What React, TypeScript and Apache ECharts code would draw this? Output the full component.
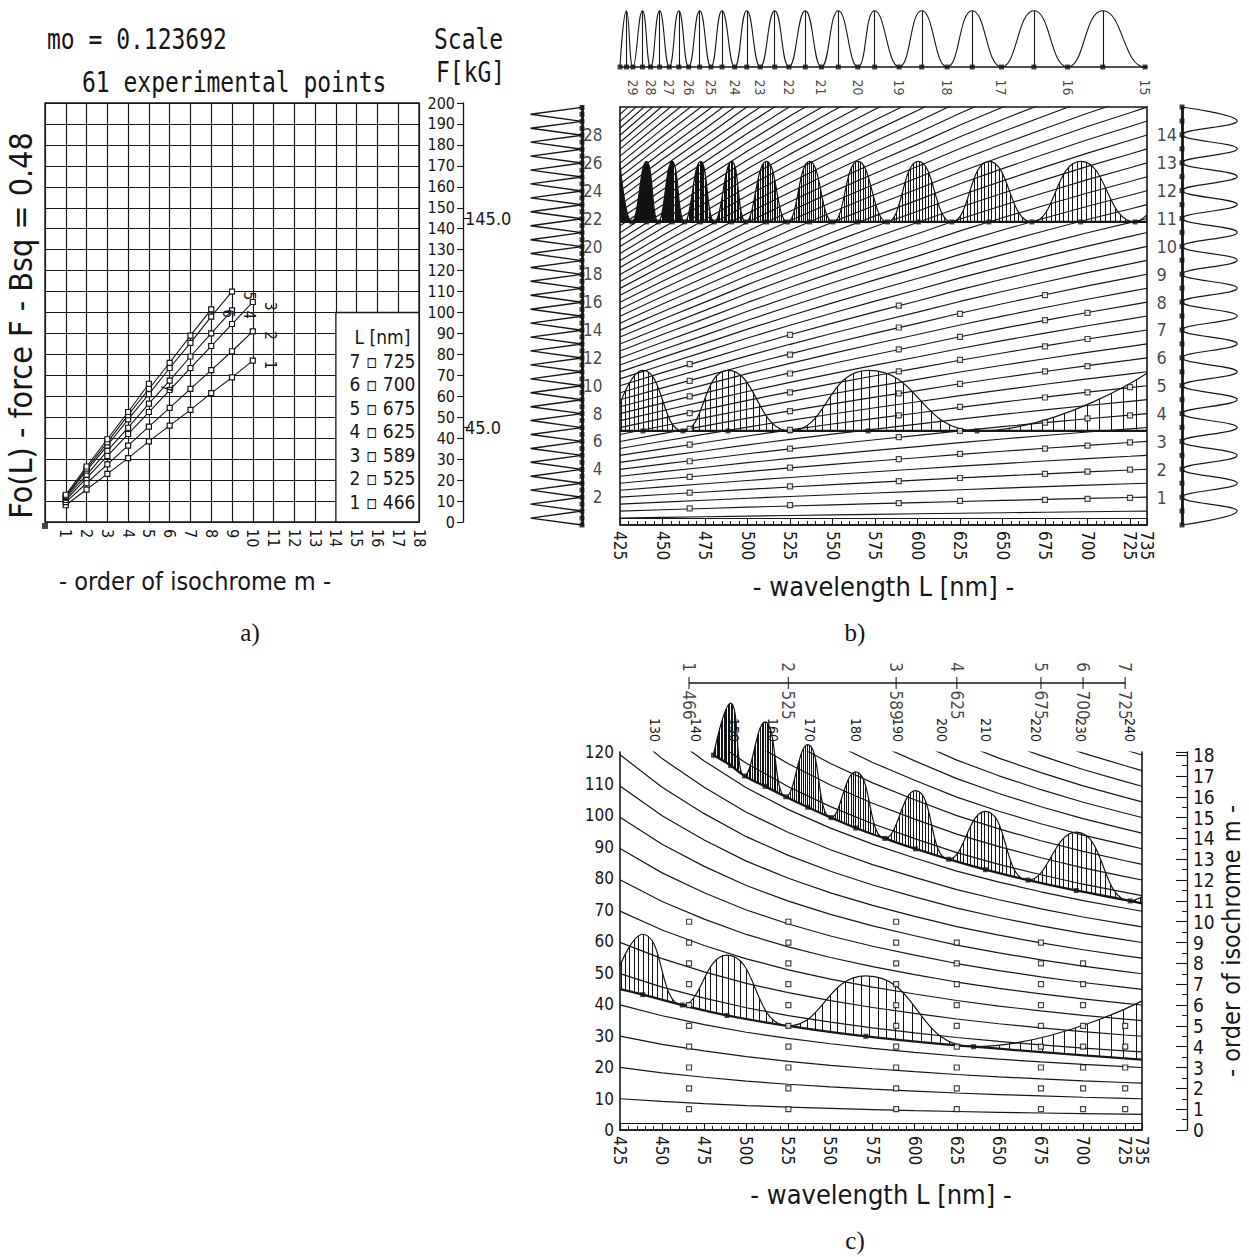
import React, { useEffect, useRef } from "react";
import * as echarts from "echarts";

const NARROW = "'Liberation Sans Narrow','DejaVu Sans Condensed','Liberation Sans',sans-serif";
const MONO = "'DejaVu Sans Mono','Liberation Mono',monospace";
const SERIF = "'Liberation Serif','DejaVu Serif',serif";
const INK = "#161616";

// ---------------- panel a ----------------
const ORDER_LABELS_A = [1, 2, 3, 4, 5, 6, 7, 8, 9, 10, 11, 12, 13, 14, 15, 16, 17, 18];
const SCALE_MARKS = [45, 145];
const WAVELENGTHS = [466, 525, 589, 625, 675, 700, 725];
const CURVE_IDS = ["1", "2", "3", "4", "5", "6", "7"];
const F_466 = [8, 15.5, 23, 30.5, 38.5, 46, 53.5, 61.5, 69, 77];
const F_525 = [9.5, 18.5, 27.5, 36.5, 45.5, 54.5, 63.5, 72.5, 81.5, 91];
const F_589 = [10.5, 21, 31.5, 42, 52.5, 63, 73.5, 84, 94.5, 105];
const F_625 = [11.5, 22.5, 34, 45, 56.5, 67.5, 79, 90, 101];
const F_675 = [12, 24.5, 36.5, 49, 61, 73.5, 85.5, 98, 110];
const F_700 = [12.5, 25.5, 38, 51, 63.5, 76, 89, 101.5];
const F_725 = [13, 26.5, 39.5, 52.5, 66];
const EXP_F = [F_466, F_525, F_589, F_625, F_675, F_700, F_725];

// ---------------- panels b and c ----------------
const WL_LABELS = [425, 450, 475, 500, 525, 550, 575, 600, 625, 650, 675, 700, 725, 735];
const K_LAMBDA = [425, 450, 475, 500, 525, 550, 575, 600, 625, 650, 675, 700, 725, 735];
// force [kG] of one isochrome order, read at each wavelength
const K_UNIT = [6.66, 7.29, 7.9, 8.52, 9.1, 9.66, 10.2, 10.72, 11.26, 11.76, 12.24, 12.71, 13.15, 13.33];
// dark and bright isochromes (whole and half orders)
const ORDERS_B = [
  0.5, 1, 1.5, 2, 2.5, 3, 3.5, 4, 4.5, 5, 5.5, 6, 6.5, 7, 7.5, 8, 8.5, 9, 9.5, 10,
  10.5, 11, 11.5, 12, 12.5, 13, 13.5, 14, 14.5, 15, 15.5, 16, 16.5, 17, 17.5, 18, 18.5, 19, 19.5, 20,
  20.5, 21, 21.5, 22, 22.5, 23, 23.5, 24, 24.5, 25, 25.5, 26, 26.5, 27, 27.5, 28, 28.5, 29, 29.5, 30,
];
const LEFT_ORDER_LABELS = [2, 4, 6, 8, 10, 12, 14, 16, 18, 20, 22, 24, 26, 28];
const RIGHT_ORDER_LABELS = [1, 2, 3, 4, 5, 6, 7, 8, 9, 10, 11, 12, 13, 14];

// spectrum at F = 200 kG (top strip)
const TOP_ZERO_LAMBDA = [425, 432.6, 443.0, 454.0, 465.4, 478.5, 492.5, 507.5, 524.4, 543.5, 564.9, 589.2, 617.4, 649.4, 688.3, 733.8];
const TOP_ZERO_ORDERS = ["", "29", "28", "27", "26", "25", "24", "23", "22", "21", "20", "19", "18", "17", "16", "15"];
const TOP_PEAK_LAMBDA = [428.8, 438.2, 448.3, 459.6, 471.9, 485.0, 499.6, 516.0, 534.0, 553.4, 574.8, 602.5, 632.2, 668.5, 709.0];

// spectrum at 425 nm (left strip) and at 735 nm (right strip), force values [kG]
const LEFT_ZERO_F = [0, 6.7, 13.3, 20.0, 26.6, 33.3, 40.0, 46.6, 53.3, 59.9, 66.6, 73.3, 79.9, 86.6, 93.2, 99.9, 106.6, 113.2, 119.9, 126.5, 133.2, 139.9, 146.5, 153.2, 159.8, 166.5, 173.2, 179.8, 186.5, 193.1, 199.8];
const LEFT_PEAK_F = [3.3, 10.0, 16.7, 23.3, 30.0, 36.6, 43.3, 50.0, 56.6, 63.3, 69.9, 76.6, 83.3, 89.9, 96.6, 103.2, 109.9, 116.6, 123.2, 129.9, 136.5, 143.2, 149.9, 156.5, 163.2, 169.8, 176.5, 183.2, 189.8, 196.5];
const RIGHT_ZERO_F = [0, 13.3, 26.7, 40.0, 53.3, 66.7, 80.0, 93.3, 106.7, 120.0, 133.3, 146.7, 160.0, 173.3, 186.7, 200];
const RIGHT_PEAK_F = [6.7, 20.0, 33.3, 46.7, 60.0, 73.3, 86.7, 100.0, 113.3, 126.7, 140.0, 153.3, 166.7, 180.0, 193.3];

// spectra at F = 145 kG and F = 45 kG (relative intensity)
const F_UPPER = 145;
const F_LOWER = 45;
const AMP_B = 29;
const SPEC145_LAMBDA = [425, 432, 440.6, 447.5, 455.7, 463, 472.4, 480.5, 490.7, 499, 511.2, 523.5, 536.5, 550.3, 565, 582.3, 600.5, 620.2, 642, 667.3, 696, 728, 735];
const SPEC145_I = [0.95, 0, 1, 0, 1, 0, 1, 0, 1, 0, 1, 0, 1, 0, 1, 0, 1, 0, 1, 0, 1, 0, 0.12];
const SPEC45_LAMBDA = [425, 438.5, 462, 488.5, 525, 571, 635, 735];
const SPEC45_I = [0.45, 1, 0, 1, 0, 1, 0, 0.95];

// panel c (order of isochrome m against wavelength)
const C_LEVELS = [10, 20, 30, 40, 50, 60, 70, 80, 90, 100, 110, 120, 130, 140, 150, 160, 170, 180, 190, 200, 210, 220, 230, 240];
const C_TOP_LAMBDA = [445.6, 470, 492.6, 516, 538, 565, 590, 616, 642.6, 672, 698.5, 728];
const C_TOP_LABELS = ["130", "140", "150", "160", "170", "180", "190", "200", "210", "220", "230", "240"];
const C145_LAMBDA = [480.5, 490.7, 499, 511.2, 523.5, 536.5, 550.3, 565, 582.3, 600.5, 620.2, 642, 667.3, 696, 728, 735];
const C145_BASE_M = [18, 17.5, 17, 16.5, 16, 15.5, 15, 14.5, 14, 13.5, 13, 12.5, 12, 11.5, 11, 10.88];
const C145_CURVE_M = [18, 20.5, 17, 19.6, 16, 18.5, 15, 17.2, 14, 16.3, 13, 15.3, 12, 14.3, 11, 11.2];
const C45_LAMBDA = [425, 438.5, 462, 488.5, 525, 571, 635, 735];
const C45_BASE_M = [6.76, 6.5, 6, 5.5, 5, 4.5, 4, 3.38];
const C45_CURVE_M = [7.9, 9.4, 6, 8.4, 5, 7.4, 4, 6.2];

function hatch(x0: number, x1: number, s0: number, s1: number, gamma: number) {
  const W = 1249;
  const H = 4;
  const c = document.createElement("canvas");
  c.width = W;
  c.height = H;
  const g = c.getContext("2d")!;
  g.fillStyle = "#111";
  let x = x0;
  while (x <= x1) {
    g.fillRect(Math.round(x), 0, 1, H);
    const t = Math.max(0, (x - x0) / (x1 - x0));
    x += s0 + (s1 - s0) * Math.pow(t, gamma);
  }
  return { image: c, repeat: "repeat", imageWidth: W, imageHeight: H } as any;
}

function buildOption() {
  const T = (size: number, family = NARROW) => ({ fontFamily: family, fontSize: size, color: INK });
  const upperHatch = hatch(600, 1160, 0.85, 5.5, 1.4);
  const lowerHatch = hatch(600, 1160, 4, 13, 1);
  const ls = (w = 1.2) => ({ color: INK, width: w });
  const series: any[] = [];
  const hollow = { color: "#fff", borderColor: INK, borderWidth: 1.2 };
  const filled = { color: INK };

  // ---------- panel a ----------
  EXP_F.forEach((arr, j) => {
    const s: any = {
      type: "line",
      xAxisIndex: 0,
      yAxisIndex: 0,
      z: 4,
      silent: true,
      data: arr.map((f, i) =>
        i === arr.length - 1
          ? { value: [i + 1, f], label: { show: true, formatter: CURVE_IDS[j] } }
          : [i + 1, f]
      ),
      symbol: "rect",
      symbolSize: 5,
      itemStyle: hollow,
      lineStyle: ls(1.1),
      label: { show: false, position: "right", distance: 6, rotate: -90, offset: [0, -8], ...T(15) },
    };
    if (j === 0) {
      s.markArea = {
        silent: true,
        itemStyle: { color: "#fff", borderColor: INK, borderWidth: 1.3 },
        label: {
          show: true,
          position: "inside",
          offset: [5, 2],
          ...T(19),
          lineHeight: 23.5,
          align: "center",
          formatter: ["L [nm]", ...WAVELENGTHS.map((w, k) => `${CURVE_IDS[k]} ▫ ${w}`).reverse()].join("\n"),
        },
        data: [[{ coord: [14, 0] }, { coord: [18, 100] }]],
      };
    }
    series.push(s);
  });
  series.push({
    type: "scatter", xAxisIndex: 0, yAxisIndex: 0, data: [[0, 0]], symbol: "rect", symbolSize: 6,
    symbolOffset: [0, 4], itemStyle: filled, clip: false, silent: true,
  });

  // ---------- panel b: isochromes ----------
  ORDERS_B.forEach((m) => {
    series.push({
      type: "line", xAxisIndex: 1, yAxisIndex: 3, z: 5, silent: true, symbol: "none", clip: true,
      lineStyle: ls(1.15),
      data: K_LAMBDA.map((w, i) => [w, m * K_UNIT[i]]),
    });
  });
  // spectra drawn on F = 145 and F = 45
  series.push({
    type: "line", xAxisIndex: 1, yAxisIndex: 3, z: 3, silent: true, symbol: "none", smooth: 0.5,
    lineStyle: ls(1.2),
    areaStyle: { color: upperHatch, origin: F_UPPER, opacity: 1 },
    data: SPEC145_LAMBDA.map((w, i) => [w, F_UPPER + AMP_B * SPEC145_I[i]]),
  });
  series.push({
    type: "line", xAxisIndex: 1, yAxisIndex: 3, z: 3, silent: true, symbol: "none", smooth: 0.5,
    lineStyle: ls(1.2),
    areaStyle: { color: lowerHatch, origin: F_LOWER, opacity: 1 },
    data: SPEC45_LAMBDA.map((w, i) => [w, F_LOWER + AMP_B * SPEC45_I[i]]),
  });
  [F_UPPER, F_LOWER].forEach((f) => {
    series.push({
      type: "line", xAxisIndex: 1, yAxisIndex: 3, z: 6, silent: true, symbol: "none",
      lineStyle: ls(2.3),
      data: [[425, f], [735, f]],
    });
  });
  series.push({
    type: "scatter", xAxisIndex: 1, yAxisIndex: 3, z: 7, silent: true, symbol: "rect", symbolSize: 5,
    itemStyle: filled,
    data: [
      ...SPEC145_LAMBDA.slice(1, -1).map((w) => [w, F_UPPER]),
      ...SPEC45_LAMBDA.slice(1, -1).map((w) => [w, F_LOWER]),
    ],
  });
  series.push({
    type: "scatter", xAxisIndex: 1, yAxisIndex: 3, z: 8, silent: true, symbol: "rect", symbolSize: 5,
    itemStyle: hollow,
    data: EXP_F.flatMap((arr, j) => arr.map((f) => [WAVELENGTHS[j], f])),
  });
  series.push({
    type: "scatter", xAxisIndex: 1, yAxisIndex: 3, z: 8, silent: true, symbolSize: 1, clip: false,
    itemStyle: { color: "transparent" },
    label: { show: true, position: "left", distance: 17, ...T(17), formatter: (p: any) => String(p.data[2]) },
    data: LEFT_ORDER_LABELS.map((m) => [425, m * K_UNIT[0], m]),
  });
  series.push({
    type: "scatter", xAxisIndex: 1, yAxisIndex: 3, z: 8, silent: true, symbolSize: 1, clip: false,
    itemStyle: { color: "transparent" },
    label: { show: true, position: "right", distance: 9, ...T(18), formatter: (p: any) => String(p.data[2]) },
    data: RIGHT_ORDER_LABELS.map((m) => [735, m * K_UNIT[K_UNIT.length - 1], m]),
  });

  // ---------- panel b: top strip ----------
  const topPts = [
    ...TOP_ZERO_LAMBDA.map((w) => [w, 0]),
    ...TOP_PEAK_LAMBDA.map((w) => [w, 1]),
  ].sort((a, b) => a[0] - b[0]);
  topPts.push([735, 0.02]);
  series.push({
    type: "line", xAxisIndex: 3, yAxisIndex: 4, silent: true, symbol: "none", smooth: 0.5,
    lineStyle: ls(1.1), data: topPts, clip: false,
    markLine: {
      silent: true, symbol: ["none", "none"], label: { show: false },
      lineStyle: { color: INK, width: 1.1, type: "solid" },
      data: TOP_PEAK_LAMBDA.map((w) => [{ coord: [w, 0] }, { coord: [w, 1] }]),
    },
  });
  series.push({
    type: "scatter", xAxisIndex: 3, yAxisIndex: 4, silent: true, symbol: "rect", symbolSize: 5,
    itemStyle: filled, clip: false,
    data: [...TOP_ZERO_LAMBDA, ...TOP_PEAK_LAMBDA].map((w) => [w, 0]),
  });
  series.push({
    type: "scatter", xAxisIndex: 3, yAxisIndex: 4, silent: true, symbolSize: 1, clip: false,
    itemStyle: { color: "transparent" },
    label: {
      show: true, position: "bottom", distance: 12, rotate: -90, align: "left", verticalAlign: "middle",
      ...T(14), formatter: (p: any) => p.data[2],
    },
    data: TOP_ZERO_LAMBDA.map((w, i) => [w, 0, TOP_ZERO_ORDERS[i]]),
  });

  // ---------- panel b: left and right strips ----------
  const leftPts = [...LEFT_ZERO_F.map((f) => [0, f]), ...LEFT_PEAK_F.map((f) => [1, f])].sort((a, b) => a[1] - b[1]);
  series.push({
    type: "line", xAxisIndex: 4, yAxisIndex: 5, silent: true, symbol: "none", lineStyle: ls(1.4),
    data: leftPts, clip: false,
  });
  series.push({
    type: "scatter", xAxisIndex: 4, yAxisIndex: 5, silent: true, symbol: "rect", symbolSize: 5,
    itemStyle: filled, clip: false,
    data: [...LEFT_ZERO_F, ...LEFT_PEAK_F].map((f) => [0, f]),
  });
  const rightPts = [...RIGHT_ZERO_F.map((f) => [0, f]), ...RIGHT_PEAK_F.map((f) => [1, f])].sort((a, b) => a[1] - b[1]);
  series.push({
    type: "line", xAxisIndex: 5, yAxisIndex: 6, silent: true, symbol: "none", smooth: 0.45, lineStyle: ls(1.2),
    data: rightPts, clip: false,
  });
  series.push({
    type: "scatter", xAxisIndex: 5, yAxisIndex: 6, silent: true, symbol: "rect", symbolSize: 5,
    itemStyle: filled, clip: false,
    data: [...RIGHT_ZERO_F, ...RIGHT_PEAK_F].map((f) => [0, f]),
  });

  // ---------- panel c ----------
  series.push({
    type: "line", xAxisIndex: 6, yAxisIndex: 8, z: 2, silent: true, symbol: "none", smooth: 0.5, clip: false,
    lineStyle: ls(1.2), areaStyle: { color: upperHatch, origin: "start", opacity: 1 },
    data: C145_LAMBDA.map((w, i) => [w, C145_CURVE_M[i]]),
  });
  series.push({
    type: "line", xAxisIndex: 6, yAxisIndex: 8, z: 3, silent: true, symbol: "none", smooth: 0.5, clip: false,
    lineStyle: ls(2.3), areaStyle: { color: "#fff", origin: "start", opacity: 1 },
    data: C145_LAMBDA.map((w, i) => [w, C145_BASE_M[i]]),
  });
  // white cover for the seam at the left end of the upper spectrum
  series.push({
    type: "line", xAxisIndex: 6, yAxisIndex: 8, z: 3, silent: true, symbol: "none", clip: false,
    lineStyle: { width: 0, color: "#fff" }, areaStyle: { color: "#fff", origin: "start", opacity: 1 },
    data: [[477, 17.8], [481.5, 17.8]],
  });
  series.push({
    type: "line", xAxisIndex: 6, yAxisIndex: 8, z: 4, silent: true, symbol: "none", smooth: 0.5, clip: false,
    lineStyle: ls(1.2), areaStyle: { color: lowerHatch, origin: "start", opacity: 1 },
    data: C45_LAMBDA.map((w, i) => [w, C45_CURVE_M[i]]),
  });
  series.push({
    type: "line", xAxisIndex: 6, yAxisIndex: 8, z: 5, silent: true, symbol: "none", smooth: 0.5, clip: false,
    lineStyle: ls(2.3), areaStyle: { color: "#fff", origin: "start", opacity: 1 },
    data: C45_LAMBDA.map((w, i) => [w, C45_BASE_M[i]]),
  });
  C_LEVELS.forEach((f) => {
    series.push({
      type: "line", xAxisIndex: 6, yAxisIndex: 8, z: 6, silent: true, symbol: "none", clip: true,
      lineStyle: ls(1.2),
      data: K_LAMBDA.map((w, i) => [w, f / K_UNIT[i]]),
    });
  });
  series.push({
    type: "scatter", xAxisIndex: 6, yAxisIndex: 8, z: 8, silent: true, symbol: "rect", symbolSize: 5,
    itemStyle: filled, clip: false,
    data: [
      ...C145_LAMBDA.slice(0, -1).map((w, i) => [w, C145_BASE_M[i]]),
      ...C45_LAMBDA.slice(1, -1).map((w, i) => [w, C45_BASE_M[i + 1]]),
    ],
  });
  series.push({
    type: "scatter", xAxisIndex: 6, yAxisIndex: 8, z: 9, silent: true, symbol: "rect", symbolSize: 5,
    itemStyle: hollow,
    data: EXP_F.flatMap((arr, j) => arr.map((_f, i) => [WAVELENGTHS[j], i + 1])),
  });
  // wavelength index bar above panel c
  series.push({
    type: "line", xAxisIndex: 9, yAxisIndex: 10, silent: true, symbol: "none", lineStyle: ls(1.3), clip: false,
    data: [[WAVELENGTHS[0], 0], [WAVELENGTHS[WAVELENGTHS.length - 1], 0]],
  });
  series.push({
    type: "scatter", xAxisIndex: 9, yAxisIndex: 10, silent: true, symbol: "rect", symbolSize: [1.3, 12], clip: false,
    itemStyle: filled,
    label: {
      show: true, position: "top", distance: 5, rotate: -90, align: "right", verticalAlign: "middle",
      ...T(17), formatter: (p: any) => CURVE_IDS[p.dataIndex],
    },
    data: WAVELENGTHS.map((w) => [w, 0]),
  });
  series.push({
    type: "scatter", xAxisIndex: 9, yAxisIndex: 10, silent: true, symbolSize: 1, clip: false,
    itemStyle: { color: "transparent" },
    label: {
      show: true, position: "bottom", distance: 7, rotate: -90, align: "left", verticalAlign: "middle",
      ...T(17), formatter: (p: any) => String(p.data[0]),
    },
    data: WAVELENGTHS.map((w) => [w, 0]),
  });

  const hiddenX = (gridIndex: number, min: number, max: number, extra: any = {}) => ({
    gridIndex, type: "value", min, max, show: false, ...extra,
  });
  const wlAxis = (gridIndex: number, nameGap: number) => ({
    gridIndex, type: "value", min: 425, max: 735, interval: 25, position: "bottom", z: 10,
    axisLine: { show: true, lineStyle: ls(1.6) },
    axisTick: { show: true, inside: true, length: 7, lineStyle: ls(1.1) },
    minorTick: { show: true, splitNumber: 5, length: 4, lineStyle: ls(1) },
    splitLine: { show: false },
    axisLabel: { customValues: WL_LABELS, rotate: -90, margin: 6, ...T(17) },
    name: "- wavelength L [nm] -", nameLocation: "middle", nameGap, nameTextStyle: T(27),
  });
  const rulerAxis = (gridIndex: number) => ({
    gridIndex, type: "value", min: 425, max: 735, position: "bottom", offset: -7, z: 10,
    axisLine: { show: true, lineStyle: ls(1.1) }, axisTick: { show: false }, axisLabel: { show: false },
    splitLine: { show: false },
  });

  return {
    animation: false,
    backgroundColor: "#fff",
    textStyle: { fontFamily: NARROW, color: INK },
    grid: [
      { left: 45, top: 103, width: 374, height: 419, show: true, borderColor: INK, borderWidth: 1.3, outerBoundsMode: "none", containLabel: false },
      { left: 620, top: 107, width: 527, height: 418, show: true, borderColor: INK, borderWidth: 1.6, outerBoundsMode: "none", containLabel: false },
      { left: 620, top: 8, width: 527, height: 59, outerBoundsMode: "none", containLabel: false },
      { left: 528, top: 107, width: 54, height: 418, outerBoundsMode: "none", containLabel: false },
      { left: 1182, top: 107, width: 58, height: 418, outerBoundsMode: "none", containLabel: false },
      { left: 620, top: 752, width: 522, height: 378, outerBoundsMode: "none", containLabel: false },
      { left: 620, top: 678, width: 522, height: 10, outerBoundsMode: "none", containLabel: false },
    ],
    xAxis: [
      {
        gridIndex: 0, type: "value", min: 0, max: 18, interval: 1,
        axisLine: { show: false }, axisTick: { show: false },
        splitLine: { show: true, lineStyle: ls(1.15) },
        axisLabel: { customValues: ORDER_LABELS_A, rotate: -90, margin: 7, ...T(16) },
        name: "- order of isochrome m -", nameLocation: "middle", nameGap: 47,
        nameTextStyle: { ...T(25), padding: [0, 74, 0, 0] },
      },
      wlAxis(1, 48),
      rulerAxis(1),
      { gridIndex: 2, type: "value", min: 425, max: 735, position: "bottom",
        axisLine: { show: true, lineStyle: ls(1.6) }, axisTick: { show: false }, axisLabel: { show: false }, splitLine: { show: false } },
      hiddenX(3, 0, 1.05, { inverse: true }),
      hiddenX(4, 0, 1.05),
      wlAxis(5, 51),
      rulerAxis(5),
      {
        gridIndex: 5, type: "value", min: 425, max: 735, position: "top", z: 10,
        axisLine: { show: true, lineStyle: ls(1.6) }, axisTick: { show: false }, splitLine: { show: false },
        axisLabel: {
          customValues: C_TOP_LAMBDA, rotate: -90, margin: 10, ...T(14),
          formatter: (v: number) => C_TOP_LABELS[C_TOP_LAMBDA.indexOf(v)] ?? "",
        },
      },
      hiddenX(6, 425, 735),
    ],
    yAxis: [
      {
        gridIndex: 0, type: "value", min: 0, max: 200, interval: 10,
        axisLine: { show: false }, axisTick: { show: false }, axisLabel: { show: false },
        splitLine: { show: true, lineStyle: ls(1.15) },
        name: "Fo(L) - force F - Bsq = 0.48", nameLocation: "middle", nameRotate: 90, nameGap: 8,
        nameTextStyle: { ...T(32), padding: [0, 26, 0, 0] },
      },
      {
        gridIndex: 0, type: "value", min: 0, max: 200, interval: 10, position: "right", offset: 44,
        axisLine: { show: true, lineStyle: ls(1.3) },
        axisTick: { show: true, inside: true, length: 6, lineStyle: ls(1.1) },
        axisLabel: { inside: true, margin: 8, ...T(16) },
        splitLine: { show: false },
      },
      {
        gridIndex: 0, type: "value", min: 0, max: 200, position: "right", offset: 44,
        axisLine: { show: false },
        axisTick: { show: true, customValues: SCALE_MARKS, length: 7, lineStyle: ls(1.1) },
        axisLabel: { customValues: SCALE_MARKS, margin: 2, ...T(18), formatter: (v: number) => v.toFixed(1) },
        splitLine: { show: false },
      },
      { gridIndex: 1, type: "value", min: 0, max: 200, show: false },
      { gridIndex: 2, type: "value", min: 0, max: 1.05, show: false },
      {
        gridIndex: 3, type: "value", min: 0, max: 200, position: "right",
        axisLine: { show: true, lineStyle: ls(2.8) }, axisTick: { show: false }, axisLabel: { show: false }, splitLine: { show: false },
      },
      {
        gridIndex: 4, type: "value", min: 0, max: 200, position: "left",
        axisLine: { show: true, lineStyle: ls(2.8) }, axisTick: { show: false }, axisLabel: { show: false }, splitLine: { show: false },
      },
      {
        gridIndex: 5, type: "value", min: 0, max: 120, interval: 10, z: 10,
        axisLine: { show: true, lineStyle: ls(1.6) }, axisTick: { show: false },
        axisLabel: { margin: 6, ...T(17) }, splitLine: { show: false },
      },
      {
        gridIndex: 5, type: "value", min: 0, max: 18.15, interval: 1, position: "right", offset: 45,
        axisLine: { show: true, lineStyle: ls(1.3) },
        axisTick: { show: true, inside: true, length: 11, lineStyle: ls(1.1) },
        minorTick: { show: true, splitNumber: 2, length: 5, lineStyle: ls(1) },
        axisLabel: { margin: 6, ...T(19), formatter: (v: number) => (Number.isInteger(v) ? String(v) : "") },
        splitLine: { show: false },
        name: "- order of isochrome m -", nameLocation: "middle", nameRotate: 90, nameGap: 32, nameTextStyle: T(25),
      },
      {
        gridIndex: 5, type: "value", min: 0, max: 18.15, position: "right", z: 10,
        axisLine: { show: true, lineStyle: ls(1.6) }, axisTick: { show: false }, axisLabel: { show: false }, splitLine: { show: false },
      },
      { gridIndex: 6, type: "value", min: -1, max: 1, show: false },
    ],
    graphic: [
      { type: "text", x: 47, y: 39, scaleY: 1.25, style: { text: "mo = 0.123692", font: `23px ${MONO}`, fill: INK, verticalAlign: "middle" } },
      { type: "text", x: 82, y: 82, scaleY: 1.25, style: { text: "61 experimental points", font: `23px ${MONO}`, fill: INK, verticalAlign: "middle" } },
      { type: "text", x: 434, y: 39, scaleY: 1.25, style: { text: "Scale", font: `23px ${MONO}`, fill: INK, verticalAlign: "middle" } },
      { type: "text", x: 436, y: 72, scaleY: 1.25, style: { text: "F[kG]", font: `23px ${MONO}`, fill: INK, verticalAlign: "middle" } },
      { type: "text", x: 250, y: 632, style: { text: "a)", font: `25px ${SERIF}`, fill: INK, align: "center", verticalAlign: "middle" } },
      { type: "text", x: 855, y: 632, style: { text: "b)", font: `25px ${SERIF}`, fill: INK, align: "center", verticalAlign: "middle" } },
      { type: "text", x: 855, y: 1240, style: { text: "c)", font: `25px ${SERIF}`, fill: INK, align: "center", verticalAlign: "middle" } },
    ],
    series,
  };
}

export default function App() {
  const ref = useRef<HTMLDivElement>(null);
  useEffect(() => {
    const chart = echarts.init(ref.current!, null, { renderer: "svg", width: 1249, height: 1257 });
    chart.setOption(buildOption() as any);
    return () => chart.dispose();
  }, []);
  return (
    <div
      ref={ref}
      style={{ position: "absolute", left: 0, top: 0, width: 1249, height: 1257, background: "#fff" }}
    />
  );
}
